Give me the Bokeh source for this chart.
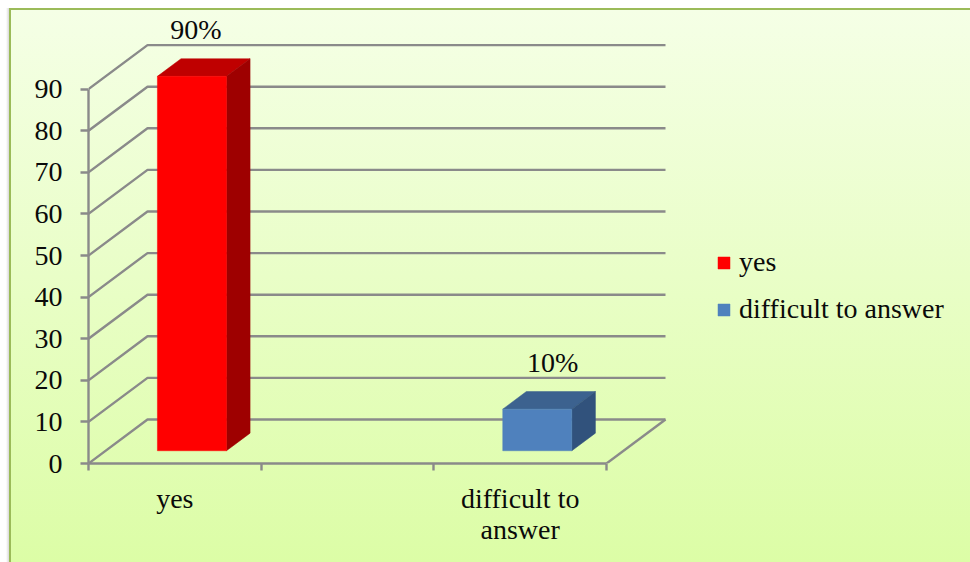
from bokeh.embed import file_html
from bokeh.resources import INLINE
from bokeh.plotting import figure
from bokeh.models import (FixedTicker, Legend, LegendItem, LinearAxis, Range1d)
from bokeh.core.properties import value

# Survey results
categories = ["yes", "", "difficult to answer"]
series_names = ["yes", "difficult to answer"]
slots = [0, 2]
values = [90, 10]
value_labels = ["90%", "10%"]
y_ticks = [0, 10, 20, 30, 40, 50, 60, 70, 80, 90]

FONT = "Liberation Serif"
FONT_SIZE = "28px"
TEXT = "#0a0a0a"
GRID = "#8a8a8a"

# Pseudo-3D oblique projection: depth 0..1 shears along both axes
UX = 172.67           # pixels per category slot
UY = 4.16             # pixels per value unit
DEPTH_X = 59 / UX
DEPTH_Y = 44 / UY
BAR_W = 0.40
BAR_D0, BAR_D1 = 0.29, 0.69

FRAME_W, FRAME_H = 882, 463
N = len(categories)

page_bg = (
    "linear-gradient(#f5ffe6,#dcfda6) 11px 10px/959px 552px no-repeat,"
    "linear-gradient(#9bbb59,#9bbb59) 9px 8px/961px 554px no-repeat,"
    "linear-gradient(to right,#ffffff,#d8d8d8) 6px 8px/3px 554px no-repeat,"
    "#ffffff"
)

p = figure(width=970, height=562, output_backend="svg", toolbar_location=None,
           frame_width=FRAME_W, frame_height=FRAME_H,
           x_range=Range1d(0, FRAME_W / UX), y_range=Range1d(0, FRAME_H / UY),
           x_axis_type=None, y_axis_type=None,
           min_border_left=88, min_border_right=0, min_border_top=0, min_border_bottom=99,
           background_fill_color=None, border_fill_color=None, outline_line_color=None,
           styles={"background": page_bg})
p.grid.visible = False

# Walls and floor: gridline runs from the front edge to the back wall, then across
grid_xs = [[0, DEPTH_X, N + DEPTH_X] for _ in y_ticks]
grid_ys = [[v, v + DEPTH_Y, v + DEPTH_Y] for v in y_ticks]
p.multi_line(grid_xs, grid_ys, line_color=GRID, line_width=2.4)
p.line([N, N + DEPTH_X], [0, DEPTH_Y], line_color=GRID, line_width=2.4)


def draw_box(slot, height, front, top, side):
    cx = slot + 0.5 + BAR_D0 * DEPTH_X
    left, right = cx - BAR_W / 2, cx + BAR_W / 2
    base = BAR_D0 * DEPTH_Y
    dx = (BAR_D1 - BAR_D0) * DEPTH_X
    dy = (BAR_D1 - BAR_D0) * DEPTH_Y
    p.patch([left, right, right + dx, left + dx],
            [base + height, base + height, base + height + dy, base + height + dy],
            fill_color=top, line_color=top, line_width=0.5)
    p.patch([right, right + dx, right + dx, right],
            [base, base + dy, base + height + dy, base + height],
            fill_color=side, line_color=side, line_width=0.5)
    return p.quad(left=left, right=right, bottom=base, top=base + height,
                  fill_color=front, line_color=front, line_width=0.5), cx, base + height + dy


bar_styles = [("#ff0000", "#bf0000", "#9e0000"), ("#4f81bd", "#3c628f", "#31527c")]
label_nudge = [4, 15.5]
fronts = []
for slot, val, label, style, nudge in zip(slots, values, value_labels, bar_styles, label_nudge):
    front, cx, top_y = draw_box(slot, val, *style)
    fronts.append(front)
    p.text(x=[cx], y=[top_y], text=[label], x_offset=[nudge], y_offset=[-29],
           text_align="center", text_baseline="middle",
           text_font=value(FONT), text_font_size=FONT_SIZE, text_color=TEXT)

# Value axis
y_axis = LinearAxis(ticker=FixedTicker(ticks=y_ticks), bounds=(0, 90))
y_axis.axis_line_color = GRID
y_axis.axis_line_width = 2.4
y_axis.major_tick_line_color = GRID
y_axis.major_tick_line_width = 2.4
y_axis.major_tick_in = 0
y_axis.major_tick_out = 8
y_axis.minor_tick_line_color = None
y_axis.major_label_standoff = 18
y_axis.major_label_text_font = FONT
y_axis.major_label_text_font_size = FONT_SIZE
y_axis.major_label_text_color = TEXT
p.add_layout(y_axis, "left")

# Category axis: ticks on the slot edges, labels in the slot centres
centres = [i + 0.5 for i in range(N)]
x_axis = LinearAxis(ticker=FixedTicker(ticks=centres, minor_ticks=list(range(N + 1))),
                    bounds=(0, N))
x_axis.major_label_overrides = {c: name.replace(" to ", " to\n") for c, name in zip(centres, categories)}
x_axis.axis_line_color = GRID
x_axis.axis_line_width = 2.4
x_axis.major_tick_line_color = None
x_axis.major_tick_in = 0
x_axis.major_tick_out = 0
x_axis.minor_tick_line_color = GRID
x_axis.minor_tick_line_width = 2.4
x_axis.minor_tick_in = 0
x_axis.minor_tick_out = 7
x_axis.major_label_standoff = 12
x_axis.major_label_text_font = FONT
x_axis.major_label_text_font_size = FONT_SIZE
x_axis.major_label_text_color = TEXT
x_axis.major_label_text_line_height = 1.0
p.add_layout(x_axis, "below")

legend = Legend(items=[LegendItem(label=value(n), renderers=[r]) for n, r in zip(series_names, fronts)],
                location=(628, 138), orientation="vertical",
                background_fill_alpha=0, border_line_color=None,
                glyph_width=15, glyph_height=15, spacing=15, padding=2, margin=0,
                label_standoff=8, label_text_font=FONT, label_text_font_size=FONT_SIZE,
                label_text_color=TEXT, label_text_baseline="middle", label_height=15)
p.add_layout(legend, "center")

open("out.html", "w").write(file_html(p, INLINE))
